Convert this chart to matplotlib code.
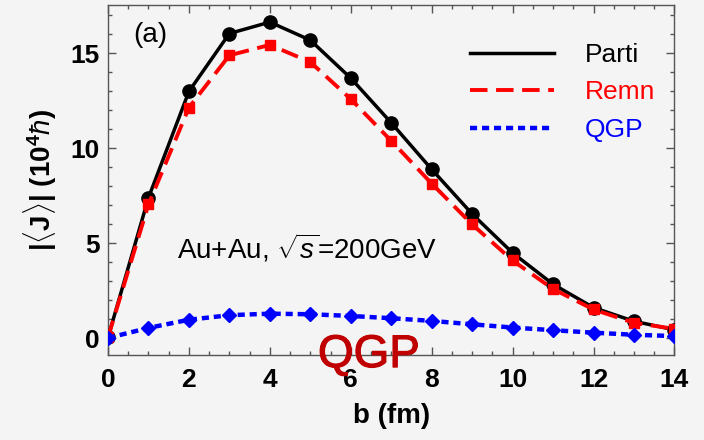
import numpy as np
import matplotlib
matplotlib.use("Agg")
import matplotlib.pyplot as plt
import matplotlib.patheffects as pe
from matplotlib.lines import Line2D

plt.rcParams['font.family'] = ['Liberation Sans', 'DejaVu Sans']
plt.rcParams['mathtext.fontset'] = 'custom'
plt.rcParams['mathtext.rm'] = 'Liberation Sans'
plt.rcParams['mathtext.it'] = 'Liberation Sans:italic'
plt.rcParams['mathtext.bf'] = 'Liberation Sans:bold'

# impact parameter b (fm)
b = [0, 1, 2, 3, 4, 5, 6, 7, 8, 9, 10, 11, 12, 13, 14]

# |<J>| in units of 10^4 hbar
parti = [0.05, 7.4, 13.0, 16.05, 16.65, 15.7, 13.7, 11.35, 8.9, 6.55, 4.5, 2.85, 1.62, 0.9, 0.45]
remn = [0.05, 7.05, 12.15, 14.9, 15.45, 14.55, 12.6, 10.4, 8.15, 6.0, 4.1, 2.6, 1.52, 0.82, 0.5]
qgp = [0.02, 0.55, 0.98, 1.22, 1.3, 1.27, 1.18, 1.06, 0.92, 0.74, 0.57, 0.43, 0.3, 0.19, 0.12]

series_names = ['Parti', 'Remn', 'QGP']
series_colors = ['black', 'red', 'blue']

BG = '#f4f4f4'

fig = plt.figure(figsize=(7.04, 4.40), dpi=100, facecolor=BG)
ax = fig.add_axes([0.1534, 0.193, 0.8046, 0.7956])
ax.set_facecolor(BG)

ax.plot(b, parti, color='black', lw=2.5, marker='o', ms=9.5, zorder=4)
ax.plot(b, remn, color='red', lw=2.8, ls=(0, (4.5, 2.2)), marker='s', ms=7, zorder=5)
ax.plot(b, qgp, color='blue', lw=3.2, ls=(0, (1.6, 1.1)), marker='D', ms=7.5, zorder=6)

ax.set_xlim(0, 14)
ax.set_ylim(-0.88, 17.55)
ax.set_xticks([0, 2, 4, 6, 8, 10, 12, 14])
ax.set_xticks(np.arange(0, 14.01, 0.5), minor=True)
ax.set_yticks([0, 5, 10, 15])
ax.set_yticks(np.arange(0, 17.01, 1), minor=True)
ax.tick_params(which='both', direction='in', top=True, right=True, color='#555555')
ax.tick_params(which='major', length=6, width=1, labelsize=19)
ax.tick_params(axis='x', which='major', pad=9)
ax.tick_params(axis='y', which='major', pad=6)
ax.tick_params(which='minor', length=3, width=1)
for lab in ax.get_xticklabels() + ax.get_yticklabels():
    lab.set_fontweight('bold')
for sp in ax.spines.values():
    sp.set_color('#555555')
    sp.set_linewidth(1.0)

ax.set_xlabel('b (fm)', fontsize=20, fontweight='bold', labelpad=8)
ax.set_ylabel(r'$\mathbf{|\langle J\rangle|\ (10^4}\hbar\mathbf{)}$', fontsize=20, labelpad=8)

handles = [
    Line2D([], [], color='black', lw=2.5),
    Line2D([], [], color='red', lw=2.8, ls=(0, (4.5, 2.2))),
    Line2D([], [], color='blue', lw=3.2, ls=(0, (1.6, 1.1))),
]
ax.legend(handles, series_names, loc='upper right', bbox_to_anchor=(1.008, 0.96),
          frameon=False, fontsize=19, labelcolor=series_colors,
          handlelength=3.2, handletextpad=1.15, labelspacing=0.52)

ax.text(0.075, 0.915, '(a)', transform=ax.transAxes, fontsize=20, ha='center', va='center')
ax.text(0.122, 0.306, r'Au+Au, $\sqrt{s}$=200GeV', transform=ax.transAxes,
        fontsize=20, ha='left', va='center')

fig.text(0.524, 0.193, 'QGP', fontsize=33, color='#c00000', family='Liberation Sans',
         ha='center', va='center', zorder=10,
         path_effects=[pe.withStroke(linewidth=0.8, foreground='#c00000')])

fig.savefig('out.png', dpi=100, facecolor=BG)
